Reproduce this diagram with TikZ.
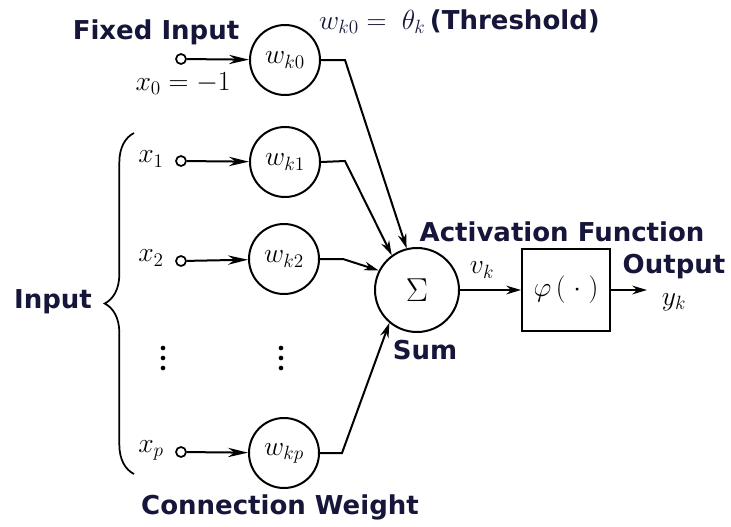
\documentclass[tikz,border=0pt]{standalone}
\usepackage{fontspec}
\newfontfamily\lblfont{DejaVu Sans}
\usepackage{tikz}
\usetikzlibrary{arrows.meta, decorations.pathreplacing}
\definecolor{lblnavy}{RGB}{22,22,58}

\begin{document}
\begin{tikzpicture}[x=0.75pt, y=-0.75pt, line width=1.5pt,
  weightn/.style={circle, draw, minimum size=52.5pt, inner sep=0pt, font=\fontsize{20}{24}\selectfont},
  sumn/.style={circle, draw, minimum size=63pt, inner sep=0pt, font=\fontsize{25}{30}\selectfont},
  actbox/.style={rectangle, draw, minimum width=66pt, minimum height=61.5pt, inner sep=0pt, font=\fontsize{20}{24}\selectfont},
  inpin/.style={circle, draw, minimum size=7.5pt, inner sep=0pt, line width=1.3pt},
  feed/.style={draw, line width=1.5pt, -{Stealth[length=11pt, width=6.5pt]}},
  infeed/.style={feed, -{Stealth[length=15pt, width=7pt]}},
  dotn/.style={circle, fill, minimum size=3.5pt, inner sep=0pt},
  mlbl/.style={font=\fontsize{20}{24}\selectfont, inner sep=0pt},
  tlbl/.style={font=\lblfont\bfseries\fontsize{19.5}{23}\selectfont, text=lblnavy, inner sep=0pt}
]
  \useasboundingbox (0,0) rectangle (731,526);
  \node[weightn] (W0) at (285,60)  {$w_{k0}$};
  \node[weightn] (W1) at (285,162) {$w_{k1}$};
  \node[weightn] (W2) at (284,259) {$w_{k2}$};
  \node[weightn] (WP) at (284,453) {$w_{kp}$};
  \node[inpin]   (I0) at (181,59)  {};
  \node[inpin]   (I1) at (181,161) {};
  \node[inpin]   (I2) at (181,261) {};
  \node[inpin]   (IP) at (181,452) {};
  \node[sumn]    (S)  at (417,290) {$\Sigma$};
  \node[actbox]  (F)  at (566,290) {$\varphi\,(\;\cdot\;)$};
  \coordinate    (Y)  at (647,290);
  \coordinate    (B0) at (345,60);  \coordinate (B1) at (345,161);
  \coordinate    (B2) at (343,259); \coordinate (BP) at (342,453);

  \draw[infeed] (I0) -- (W0);  \draw[infeed] (I1) -- (W1);
  \draw[infeed] (I2) -- (W2);  \draw[infeed] (IP) -- (WP);
  \draw[feed] (W0.east) -- (B0) -- (S.104);
  \draw[feed] (W1.east) -- (B1) -- (S.126);
  \draw[feed] (W2.east) -- (B2) -- (S.153);
  \draw[feed] (WP.east) -- (BP) -- (S.230);
  \draw[feed] (S.east) -- (F.west);
  \draw[feed] (F.east) -- (Y);

  \node[mlbl] (x0) at (183,84)  {$x_0=-1$};
  \node[mlbl] (x1) at (151,159) {$x_1$};
  \node[mlbl] (x2) at (151,258) {$x_2$};
  \node[mlbl] (xp) at (151,450) {$x_p$};
  \node[mlbl] (vk) at (482,270) {$v_k$};
  \node[mlbl] (yk) at (674,302) {$y_k$};
  \foreach \yy in {348,358,368} {
    \node[dotn] at (163,\yy) {};
    \node[dotn] at (281,\yy) {};
  }
  \draw[decorate, decoration={brace, amplitude=22pt}, line width=1.3pt] (134,474) -- (134,133);

  \node[tlbl] (fixl) at (156,32)  {Fixed Input};
  \node[tlbl, anchor=west] (thrl) at (318,22) {\normalfont\fontsize{20}{24}\selectfont$w_{k0}=\;\theta_k$\,{\lblfont\bfseries\fontsize{19.5}{23}\selectfont(Threshold)}};
  \node[tlbl] (actl) at (562,232) {Activation Function};
  \node[tlbl] (outl) at (674,267) {Output};
  \node[tlbl] (suml) at (425,350) {Sum};
  \node[tlbl] (inpl) at (53,302)  {Input};
  \node[tlbl] (conl) at (280,507) {Connection Weight};
\end{tikzpicture}
\end{document}
